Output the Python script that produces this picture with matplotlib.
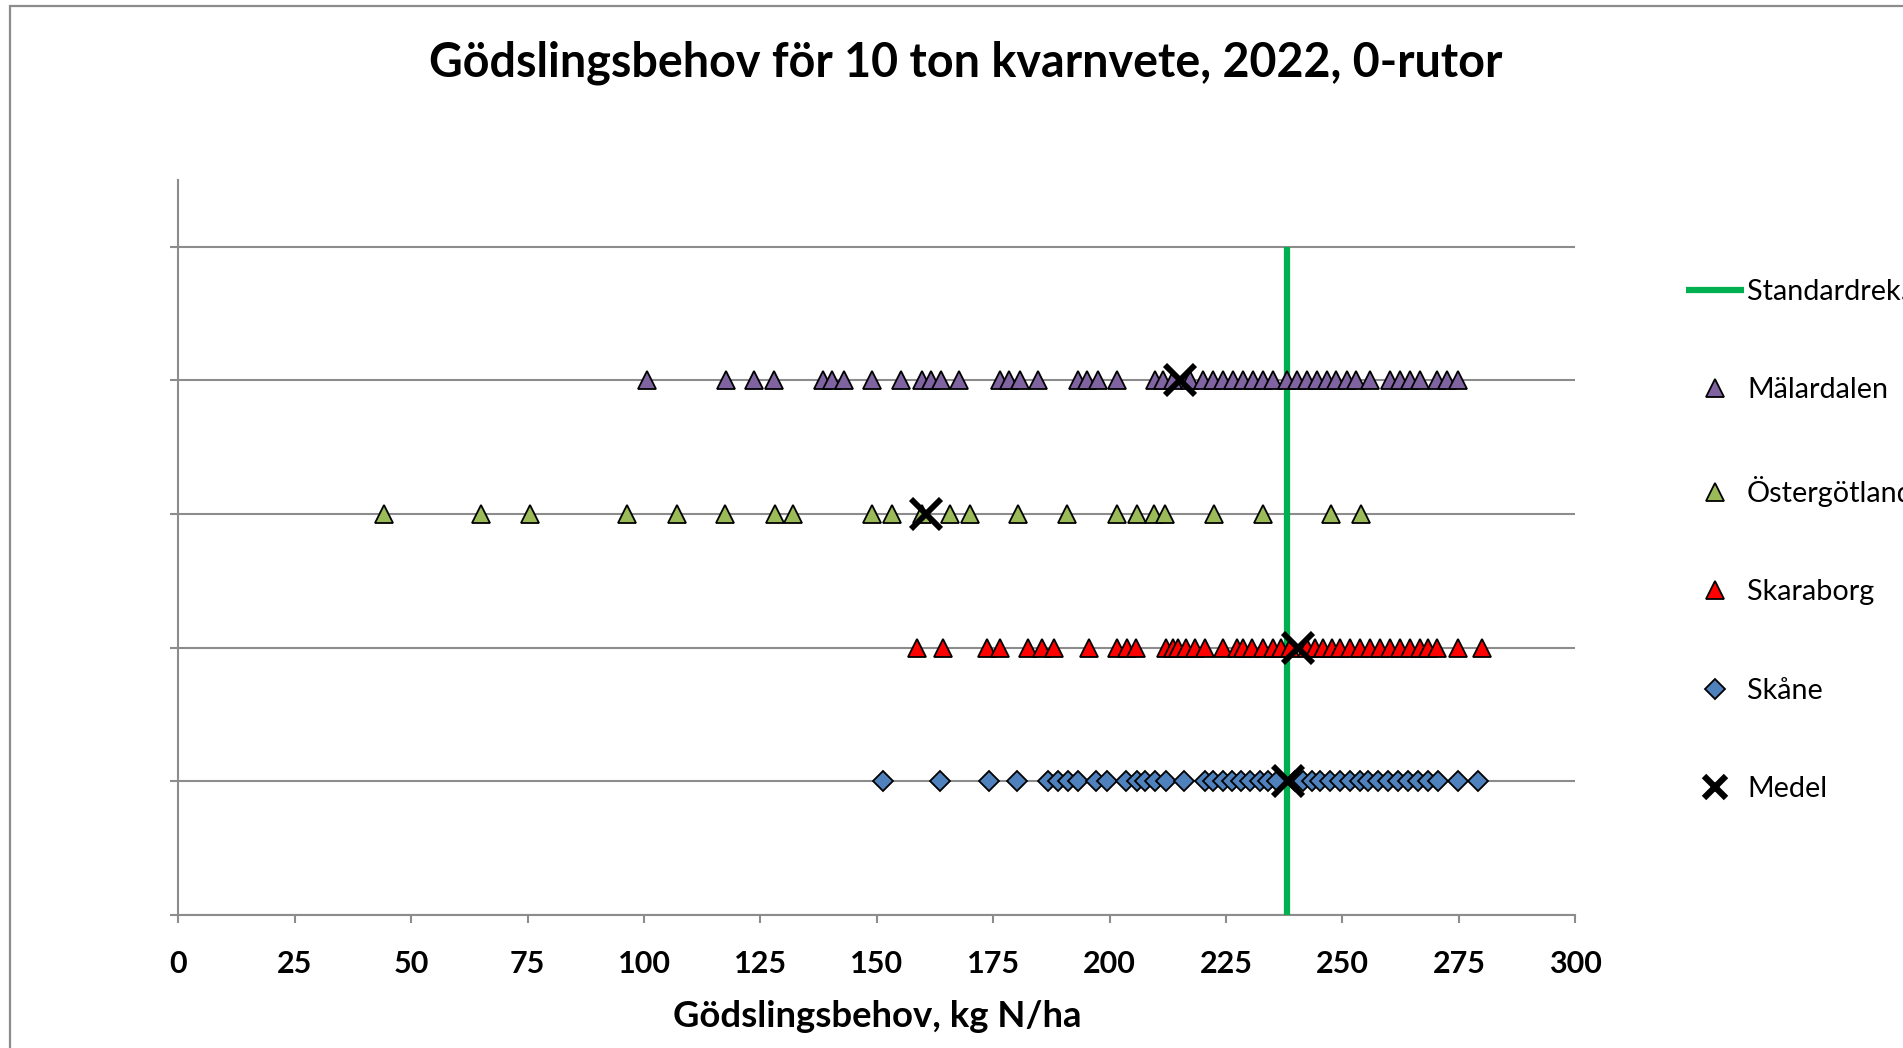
import numpy as np
import matplotlib
matplotlib.use("Agg")
import matplotlib.pyplot as plt
from matplotlib.patches import Rectangle

plt.rcParams['font.family'] = ['Lato', 'DejaVu Sans']

# values, kg N/ha
MALARDALEN = [100.7, 117.6, 123.7, 127.9, 138.4, 140.3, 142.9, 149.0, 155.2, 159.6,
              161.6, 163.8, 167.7, 176.4, 178.4, 180.7, 184.7, 193.3, 195.1, 197.6,
              201.5, 209.7, 211.5, 213.7, 217.2, 220.1, 222.2, 224.4, 226.5, 228.7,
              230.8, 233.0, 235.1, 238.0, 240.2, 242.3, 244.5, 246.6, 248.7, 250.9,
              253.0, 255.9, 260.2, 262.4, 264.5, 266.6, 270.2, 272.4, 274.9]
OSTERGOTLAND = [44.2, 64.9, 75.5, 96.4, 107.0, 117.4, 128.1, 132.1, 149.0, 153.3,
                159.6, 165.7, 170.0, 180.4, 190.9, 201.6, 205.8, 209.6, 211.9, 222.4,
                233.0, 247.5, 253.9]
SKARABORG = [158.6, 164.3, 173.6, 176.4, 182.5, 185.4, 188.1, 195.6, 201.5, 203.7,
             205.6, 212.2, 213.7, 214.7, 216.4, 218.3, 220.5, 224.4, 227.3, 228.7,
             230.5, 233.0, 235.1, 236.9, 238.7, 242.3, 244.1, 245.9, 247.7, 249.5,
             251.6, 253.7, 255.9, 258.0, 260.2, 262.3, 264.5, 266.6, 268.4, 270.2,
             274.9, 279.9]
SKANE = [151.3, 163.6, 174.1, 180.2, 186.8, 189.0, 191.1, 193.3, 197.1, 199.5,
         203.5, 205.8, 207.7, 209.7, 212.0, 216.0, 220.5, 222.2, 224.4, 226.2,
         228.3, 230.1, 232.3, 234.1, 235.9, 239.8, 241.6, 243.4, 245.2, 247.3,
         249.5, 251.6, 253.7, 255.5, 257.7, 259.8, 262.0, 264.1, 266.3, 268.4,
         270.6, 274.9, 279.2]

# row of each region on the y axis
ROWS = {"Skåne": 1, "Skaraborg": 2, "Östergötland": 3, "Mälardalen": 4}
MEDEL = {"Skåne": 238.2, "Skaraborg": 240.5, "Östergötland": 160.6, "Mälardalen": 215.1}
STANDARDREK = 238

X_TICKS = list(range(0, 301, 25))

GRAY = "#8c8c8c"

fig = plt.figure(figsize=(19.03, 10.48), dpi=100)
ax = fig.add_axes([178.3 / 1903, 133 / 1048, (1575.3 - 178.3) / 1903, (915 - 180) / 1048])

# chart frame around the whole figure
fig.patches.append(Rectangle((10 / 1903, -0.1), 1.2, 1.1 - 6 / 1048,
                             transform=fig.transFigure, fill=False,
                             edgecolor=GRAY, linewidth=1.6))

ax.plot([STANDARDREK, STANDARDREK], [0, 5], color="#00B050", linewidth=4.5,
        solid_capstyle="butt", zorder=3, label="Standardrek.")

series = [
    ("Mälardalen", MALARDALEN, "^", "#8064A2", 13),
    ("Östergötland", OSTERGOTLAND, "^", "#9BBB59", 13),
    ("Skaraborg", SKARABORG, "^", "#FF0000", 13),
    ("Skåne", SKANE, "D", "#4F81BD", 10),
]
for name, vals, marker, color, ms in series:
    ax.plot(vals, np.full(len(vals), ROWS[name]), linestyle="none", marker=marker,
            markersize=ms, markerfacecolor=color, markeredgecolor="black",
            markeredgewidth=1.3, zorder=4, label=name)

ax.plot(list(MEDEL.values()), [ROWS[k] for k in MEDEL], linestyle="none",
        marker="x", markersize=21, markeredgewidth=4.2, color="black",
        zorder=5, label="Medel")

ax.set_xlim(0, 300)
ax.set_ylim(0, 5.5)
ax.set_xticks(X_TICKS)
ax.set_yticks(range(0, 6))
ax.set_yticklabels([])
ax.grid(axis="y", color=GRAY, linewidth=1.5, zorder=1)
ax.set_axisbelow(True)
for side in ("top", "right"):
    ax.spines[side].set_visible(False)
for side in ("left", "bottom"):
    ax.spines[side].set_color(GRAY)
    ax.spines[side].set_linewidth(1.5)
ax.tick_params(axis="both", direction="out", length=6, width=1.5, color=GRAY)
ax.tick_params(axis="x", labelsize=22, pad=19)
for lbl in ax.get_xticklabels():
    lbl.set_fontweight("bold")

ax.set_xlabel("Gödslingsbehov, kg N/ha", fontsize=26.3, fontweight="bold", labelpad=16)

fig.text(966 / 1903, 1 - 63 / 1048, "Gödslingsbehov för 10 ton kvarnvete, 2022, 0-rutor",
         fontsize=33.6, fontweight="bold", ha="center", va="center")

leg = ax.legend(loc="upper left", bbox_to_anchor=(1686 / 1903, 1 - 279 / 1048),
                bbox_transform=fig.transFigure, frameon=False, fontsize=20.7,
                handlelength=2.0, handletextpad=0.12, labelspacing=2.52,
                borderaxespad=0, borderpad=0)
leg.legend_handles[-1].set_markersize(16)
leg.legend_handles[-1].set_markeredgewidth(4.5)

fig.savefig("out.png", dpi=100)
